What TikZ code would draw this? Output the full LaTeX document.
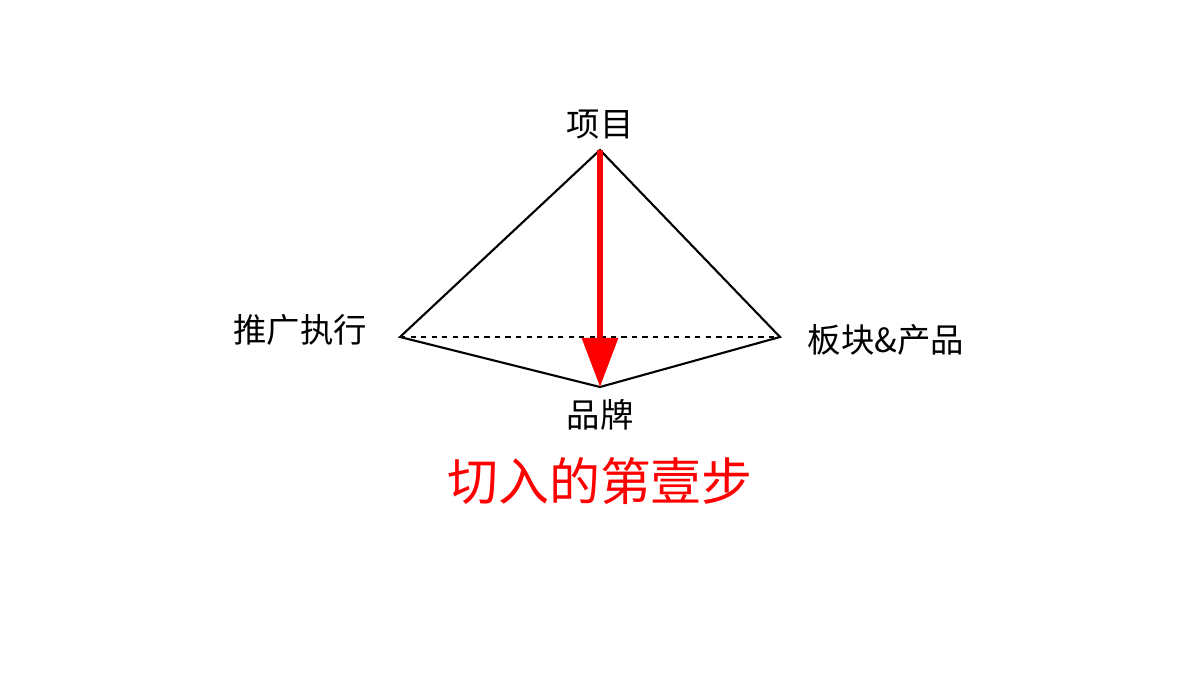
\documentclass[tikz,border=0pt]{standalone}
\usepackage{fontspec}
\setmainfont{Noto Sans CJK SC}
\usetikzlibrary{arrows.meta}
\begin{document}
\begin{tikzpicture}[x=0.02cm,y=-0.02cm,
  lbl/.style={font=\fontsize{19pt}{22pt}\selectfont,inner sep=0pt},
  edge/.style={draw=black,line width=1.2pt}]
\useasboundingbox (0,0) rectangle (1200,675);
\coordinate (A) at (600,150);
\coordinate (L) at (400,337);
\coordinate (R) at (780,337);
\coordinate (B) at (600,387);
\draw[edge] (L) -- (A) -- (R) -- (B) -- cycle;
\draw[black,line width=0.9pt,dashed] (L) -- (R);
\draw[red,line width=3.5pt,-{Triangle[length=28pt,width=20pt]}] (A) -- (B);
\node[lbl] (t1) at (600,125) {项目};
\node[lbl] (t2) at (300,330) {推广执行};
\node[lbl] (t3) at (886,340) {板块\&产品};
\node[lbl] (t4) at (600,415) {品牌};
\node[lbl,red,font=\fontsize{29pt}{34pt}\selectfont] (t5) at (600,481) {切入的第壹步};
\end{tikzpicture}
\end{document}
